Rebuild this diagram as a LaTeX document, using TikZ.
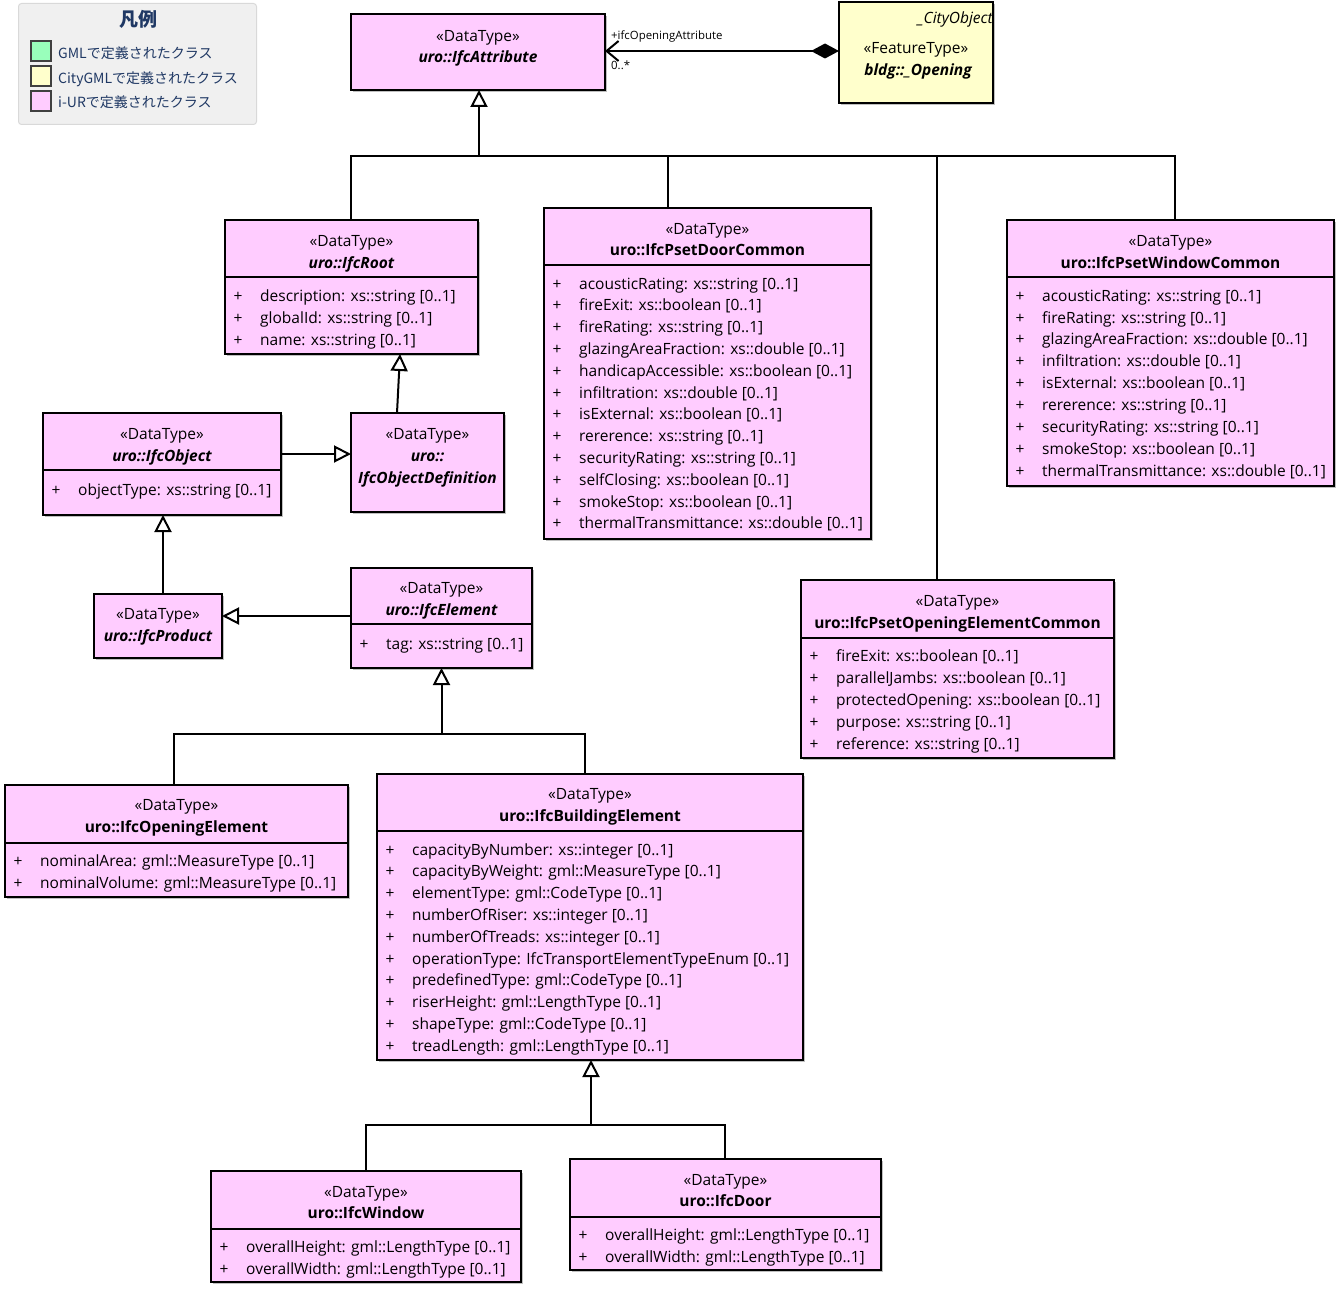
\documentclass[tikz,border=0pt]{standalone}
\usepackage{fontspec}
\setmainfont{Open Sans}
\newfontfamily\jpfont{Noto Sans CJK JP}
\usetikzlibrary{arrows.meta,shadows}
\definecolor{pinkfill}{RGB}{255,204,255}
\definecolor{yellowfill}{RGB}{255,255,204}
\definecolor{greenfill}{RGB}{153,255,187}
\definecolor{legendbg}{RGB}{240,240,240}
\definecolor{legendtext}{RGB}{31,56,100}
\tikzset{
  cls/.style={draw=black, line width=2.4pt, fill=pinkfill, outer sep=0pt, inner sep=0pt, anchor=north west,
    drop shadow={shadow xshift=2pt, shadow yshift=-2pt, fill=black!25, opacity=1}},
  divline/.style={draw=black, line width=2.2pt},
  txt/.style={inner sep=0pt, yshift=-2.5pt, font=\fontsize{15.5}{18}\selectfont},
  nm/.style={inner sep=0pt, yshift=-2.5pt, font=\fontsize{15.5}{18}\selectfont\bfseries},
  nmi/.style={inner sep=0pt, yshift=-2.5pt, font=\fontsize{15.5}{18}\selectfont\bfseries\itshape},
  small/.style={inner sep=0pt, yshift=-1.5pt, font=\fontsize{11.4}{13}\selectfont},
  conn/.style={draw=black, line width=2pt},
  gen/.style={draw=black, line width=2pt, -{Triangle[length=17pt,width=17pt,fill=white]}},
  legtxt/.style={inner sep=0pt, yshift=-4pt, text=legendtext, font=\jpfont\fontsize{14}{16}\selectfont},
  swatch/.style={draw=black!75, line width=1.5pt, minimum width=20pt, minimum height=20pt, inner sep=0pt, outer sep=0pt, anchor=north west}
}
% #1 prefix, #2 left x, #3 first y, #4 step, #5 list
\newcommand{\attrlist}[5]{%
  \foreach \a [count=\i from 0] in {#5} {
    \node[txt,anchor=mid] (#1p\i) at ({#2+13},{#3+\i*#4}) {+};
    \node[txt,anchor=mid west] (#1a\i) at ({#2+35},{#3+\i*#4}) {\a};
  }}
% #1 prefix, #2 center x, #3 y1, #4 y2, #5 style, #6 name
\newcommand{\hdr}[6]{%
  \node[txt,anchor=mid] (#1s) at (#2,#3) {«DataType»};
  \node[#5,anchor=mid] (#1n) at (#2,#4) {#6};}
\newcommand{\divider}[2]{%
  \draw[divline] ([yshift=-#2pt]#1.north west) -- ([yshift=-#2pt]#1.north east);}
\begin{document}
\begin{tikzpicture}[x=1pt,y=-1pt]
\useasboundingbox (0,0) rectangle (1338,1292);

% Legend
\node[draw=black!15, line width=1pt, fill=legendbg, rounded corners=3pt, minimum width=238pt, minimum height=121pt, anchor=north west, inner sep=0pt] (legend) at (18,3) {};
\node[inner sep=0pt, yshift=-4pt, text=legendtext, font=\jpfont\bfseries\fontsize{19}{21}\selectfont, anchor=mid] (legtitle) at (138,20) {凡例};
\node[swatch, fill=greenfill] (sw1) at (31,41) {};
\node[swatch, fill=yellowfill] (sw2) at (31,66) {};
\node[swatch, fill=pinkfill] (sw3) at (31,91) {};
\node[legtxt, anchor=mid west] (lg1) at (58,52) {GMLで定義されたクラス};
\node[legtxt, anchor=mid west] (lg2) at (58,77) {CityGMLで定義されたクラス};
\node[legtxt, anchor=mid west] (lg3) at (58,101) {i-URで定義されたクラス};

% IfcAttribute
\node[cls, minimum width=254pt, minimum height=76pt] (attr) at (351,14) {};
\hdr{attr}{478}{36}{57}{nmi}{uro::IfcAttribute}

% _Opening
\node[cls, fill=yellowfill, minimum width=154pt, minimum height=101pt] (opening) at (839,2) {};
\node[txt, font=\fontsize{15.5}{18}\selectfont\itshape, anchor=mid east] (opco) at (993,18) {\_CityObject};
\node[txt, anchor=mid] (opst) at (916,48) {«FeatureType»};
\node[nmi, anchor=mid] (opnm) at (918,70) {bldg::\_Opening};

% association
\draw[draw=black, line width=2pt, {Straight Barb[length=12pt,width=20pt]}-{Diamond[length=28pt,width=15pt]}]
  ([yshift=-37pt]attr.north east) -- ([yshift=-49pt]opening.north west);
\node[small, anchor=mid west] (rolelbl) at (611,35) {+ifcOpeningAttribute};
\node[small, anchor=mid west] (multlbl) at (611,65) {0..*};

% IfcRoot
\node[cls, minimum width=253pt, minimum height=134pt] (root) at (225,220) {};
\divider{root}{57}
\hdr{root}{351.5}{241}{263}{nmi}{uro::IfcRoot}
\attrlist{root}{225}{296}{22}{{description: xs::string [0..1]},{globalId: xs::string [0..1]},{name: xs::string [0..1]}}

% IfcPsetDoorCommon
\node[cls, minimum width=327pt, minimum height=331pt] (door) at (544,208) {};
\divider{door}{57}
\hdr{door}{707.5}{229}{250}{nm}{uro::IfcPsetDoorCommon}
\attrlist{door}{544}{284}{21.8}{{acousticRating: xs::string [0..1]},{fireExit: xs::boolean [0..1]},{fireRating: xs::string [0..1]},{glazingAreaFraction: xs::double [0..1]},{handicapAccessible: xs::boolean [0..1]},{infiltration: xs::double [0..1]},{isExternal: xs::boolean [0..1]},{rererence: xs::string [0..1]},{securityRating: xs::string [0..1]},{selfClosing: xs::boolean [0..1]},{smokeStop: xs::boolean [0..1]},{thermalTransmittance: xs::double [0..1]}}

% IfcPsetWindowCommon
\node[cls, minimum width=327pt, minimum height=266pt] (window) at (1007,220) {};
\divider{window}{57}
\hdr{window}{1170.5}{241}{263}{nm}{uro::IfcPsetWindowCommon}
\attrlist{window}{1007}{296}{21.9}{{acousticRating: xs::string [0..1]},{fireRating: xs::string [0..1]},{glazingAreaFraction: xs::double [0..1]},{infiltration: xs::double [0..1]},{isExternal: xs::boolean [0..1]},{rererence: xs::string [0..1]},{securityRating: xs::string [0..1]},{smokeStop: xs::boolean [0..1]},{thermalTransmittance: xs::double [0..1]}}

% IfcObject
\node[cls, minimum width=238pt, minimum height=102pt] (object) at (43,413) {};
\divider{object}{57}
\hdr{object}{162}{434}{456}{nmi}{uro::IfcObject}
\attrlist{object}{43}{490}{22}{{objectType: xs::string [0..1]}}

% IfcObjectDefinition
\node[cls, minimum width=153pt, minimum height=99pt] (objdef) at (351,413) {};
\node[txt, anchor=mid] (objdefs) at (427.5,434) {«DataType»};
\node[nmi, anchor=mid] (objdefn1) at (427.5,456) {uro::};
\node[nmi, anchor=mid] (objdefn2) at (427.5,478) {IfcObjectDefinition};

% IfcProduct
\node[cls, minimum width=128pt, minimum height=64pt] (product) at (94,594) {};
\hdr{product}{158}{614}{636}{nmi}{uro::IfcProduct}

% IfcElement
\node[cls, minimum width=181pt, minimum height=100pt] (element) at (351,568) {};
\divider{element}{56}
\hdr{element}{441.5}{588}{610}{nmi}{uro::IfcElement}
\attrlist{element}{351}{644}{22}{{tag: xs::string [0..1]}}

% IfcPsetOpeningElementCommon
\node[cls, minimum width=313pt, minimum height=178pt] (opcommon) at (801,580) {};
\divider{opcommon}{58}
\hdr{opcommon}{957.5}{601}{623}{nm}{uro::IfcPsetOpeningElementCommon}
\attrlist{opcommon}{801}{656}{22}{{fireExit: xs::boolean [0..1]},{parallelJambs: xs::boolean [0..1]},{protectedOpening: xs::boolean [0..1]},{purpose: xs::string [0..1]},{reference: xs::string [0..1]}}

% IfcOpeningElement
\node[cls, minimum width=343pt, minimum height=112pt] (opelem) at (5,785) {};
\divider{opelem}{58}
\hdr{opelem}{176.5}{805}{827}{nm}{uro::IfcOpeningElement}
\attrlist{opelem}{5}{861}{22}{{nominalArea: gml::MeasureType [0..1]},{nominalVolume: gml::MeasureType [0..1]}}

% IfcBuildingElement
\node[cls, minimum width=426pt, minimum height=286pt] (building) at (377,774) {};
\divider{building}{57}
\hdr{building}{590}{794}{816}{nm}{uro::IfcBuildingElement}
\attrlist{building}{377}{850}{21.8}{{capacityByNumber: xs::integer [0..1]},{capacityByWeight: gml::MeasureType [0..1]},{elementType: gml::CodeType [0..1]},{numberOfRiser: xs::integer [0..1]},{numberOfTreads: xs::integer [0..1]},{operationType: IfcTransportElementTypeEnum [0..1]},{predefinedType: gml::CodeType [0..1]},{riserHeight: gml::LengthType [0..1]},{shapeType: gml::CodeType [0..1]},{treadLength: gml::LengthType [0..1]}}

% IfcWindow
\node[cls, minimum width=310pt, minimum height=111pt] (winc) at (211,1171) {};
\divider{winc}{58}
\hdr{winc}{366}{1192}{1213}{nm}{uro::IfcWindow}
\attrlist{winc}{211}{1247}{22}{{overallHeight: gml::LengthType [0..1]},{overallWidth: gml::LengthType [0..1]}}

% IfcDoor
\node[cls, minimum width=311pt, minimum height=111pt] (doorc) at (570,1159) {};
\divider{doorc}{58}
\hdr{doorc}{725.5}{1180}{1201}{nm}{uro::IfcDoor}
\attrlist{doorc}{570}{1235}{22}{{overallHeight: gml::LengthType [0..1]},{overallWidth: gml::LengthType [0..1]}}

% Generalization tree to IfcAttribute
\coordinate (t1) at (479,156);
\coordinate (b1) at (351,156);
\coordinate (b2) at (668,156);
\coordinate (b3) at (937,156);
\coordinate (b4) at (1175,156);
\draw[gen] (t1) -- (t1 |- attr.south);
\draw[conn] (b1 |- root.north) -- (b1) -- (b4) -- (b4 |- window.north);
\draw[conn] (b2) -- (b2 |- door.north);
\draw[conn] (b3) -- (b3 |- opcommon.north);

% IfcObjectDefinition -> IfcRoot
\draw[gen] ([xshift=-30.5pt]objdef.north) -- ([xshift=48.5pt]root.south);
% IfcObject -> IfcObjectDefinition
\draw[gen] ([yshift=-41pt]object.north east) -- ([yshift=-41pt]objdef.north west);
% IfcProduct -> IfcObject
\coordinate (pp) at ([xshift=5pt]product.north);
\draw[gen] (pp) -- (pp |- object.south);
% IfcElement -> IfcProduct
\draw[gen] ([yshift=-48pt]element.north west) -- ([yshift=-22pt]product.north east);

% Tree to IfcElement
\coordinate (t2) at (441.5,734);
\coordinate (c1) at (174,734);
\coordinate (c2) at (585,734);
\draw[gen] (t2) -- (t2 |- element.south);
\draw[conn] (c1 |- opelem.north) -- (c1) -- (c2) -- (c2 |- building.north);

% Tree to IfcBuildingElement
\coordinate (t3) at (591,1125);
\coordinate (d1) at (366,1125);
\coordinate (d2) at (725,1125);
\draw[gen] (t3) -- (t3 |- building.south);
\draw[conn] (d1 |- winc.north) -- (d1) -- (d2) -- (d2 |- doorc.north);
\end{tikzpicture}
\end{document}
